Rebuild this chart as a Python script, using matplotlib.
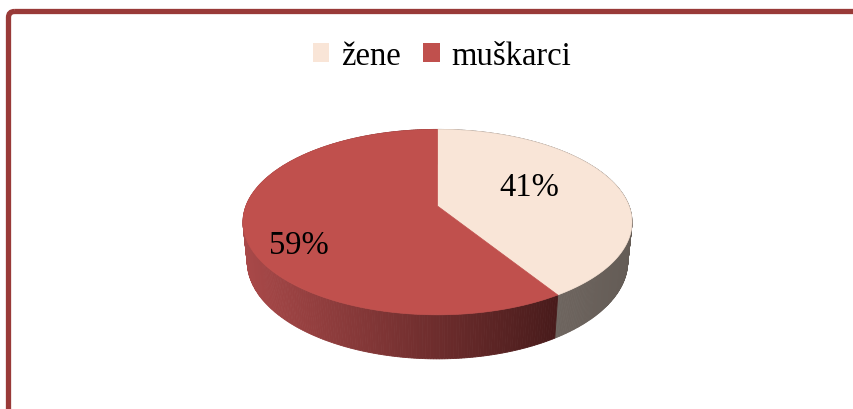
import numpy as np
import matplotlib
matplotlib.use('Agg')
import matplotlib.pyplot as plt
from matplotlib.patches import Patch, FancyBboxPatch

# data
labels = ['žene', 'muškarci']
shares = [41, 59]
top_colors = ['#F9E5D7', '#C0504D']
side_left = ['#6E655F', '#A94949']
side_right = ['#645C56', '#481B1B']

plt.rcParams['font.family'] = ['Liberation Serif', 'DejaVu Serif']

fig = plt.figure(figsize=(8.54, 4.10), dpi=100)
ax = fig.add_axes([0, 0, 1, 1])
ax.set_xlim(0, 854)
ax.set_ylim(410, 0)
ax.axis('off')

# frame
ax.add_patch(FancyBboxPatch((8.5, 12.5), 900, 450, boxstyle='round,pad=0,rounding_size=6',
                            fill=False, edgecolor='#993A38', linewidth=3.8))

# simple perspective camera for a 3D pie
elev = np.radians(28)
dist = 5.09
depth_h = 0.235
scale = 975
cx, cy = 437.5, 207


def project(x, y, z):
    up = y * np.sin(elev) + z * np.cos(elev)
    d = dist + y * np.cos(elev) - z * np.sin(elev)
    return cx + scale * x / d, cy - scale * up / d


def mix(c1, c2, t):
    a = np.array(matplotlib.colors.to_rgb(c1))
    b = np.array(matplotlib.colors.to_rgb(c2))
    return tuple(a + (b - a) * t)


fracs = np.array(shares) / sum(shares)
starts = 90 - 360 * np.concatenate([[0], np.cumsum(fracs)[:-1]])
ends = starts - 360 * fracs

# sides
segs = []
for i in range(len(shares)):
    t = np.radians(np.linspace(starts[i], ends[i], 300))
    xs, _ = project(np.cos(t), np.sin(t), 0)
    vis = np.sin(t) < 0.3
    xmin, xmax = xs[vis].min(), xs[vis].max()
    for k in range(len(t) - 1):
        a, b = t[k], t[k + 1]
        xa, ya = project(np.cos(a), np.sin(a), 0)
        xb, yb = project(np.cos(b), np.sin(b), 0)
        xc, yc = project(np.cos(b), np.sin(b), -depth_h)
        xd, yd = project(np.cos(a), np.sin(a), -depth_h)
        f = np.clip(((xa + xb) / 2 - xmin) / (xmax - xmin), 0, 1)
        col = mix(side_left[i], side_right[i], f)
        segs.append((np.sin((a + b) / 2), [xa, xb, xc, xd], [ya, yb, yc, yd], col))

for s, xs, ys, col in sorted(segs, key=lambda q: -q[0]):
    ax.fill(xs, ys, color=col, edgecolor=col, linewidth=0.6)

# top faces
for i in range(len(shares)):
    t = np.radians(np.linspace(starts[i], ends[i], 300))
    xs, ys = project(np.cos(t), np.sin(t), 0)
    x0, y0 = project(0, 0, 0)
    ax.fill(np.r_[x0, xs], np.r_[y0, ys], color=top_colors[i], edgecolor=top_colors[i], linewidth=0.5)

# percentage labels
for i in range(len(shares)):
    mid = np.radians((starts[i] + ends[i]) / 2 + 12)
    r = 0.68
    lx, ly = project(r * np.cos(mid), r * np.sin(mid), 0)
    ax.text(lx - 17, ly + 8, f'{shares[i]}%', ha='center', va='center', fontsize=23.5, color='black')

handles = [Patch(facecolor=c, edgecolor='none') for c in top_colors]
fig.legend(handles, labels, loc='upper center', bbox_to_anchor=(442 / 854, 1 - 25 / 410),
           ncol=2, frameon=False, fontsize=23.5, handlelength=0.5, handleheight=0.5,
           handletextpad=0.35, columnspacing=0.7, borderpad=0)

fig.savefig('out.png', dpi=100)
